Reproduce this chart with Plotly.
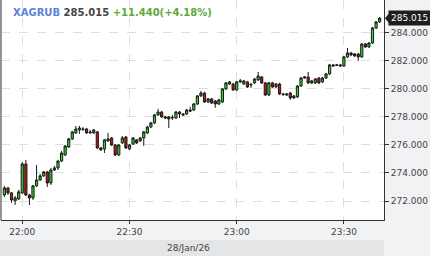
import pandas as pd
import plotly.graph_objects as go

start_time = "2026-01-28 21:55"
open_ = [272.43, 272.93, 272.58, 272.01, 272.15, 272.58, 274.64, 272.43, 272.22, 273.08,
         273.50, 273.79, 274.07, 273.29, 274.21, 274.36, 274.85, 275.28, 275.85, 276.42,
         276.85, 277.06, 277.13, 277.13, 276.85, 276.85, 276.92, 275.78, 275.71, 276.28,
         276.49, 275.99, 275.28, 276.14, 276.56, 275.71, 276.06, 276.35, 276.28, 276.49,
         276.85, 277.27, 277.56, 278.13, 278.34, 277.99, 277.99, 277.91, 277.91, 278.34,
         278.20, 278.20, 278.48, 278.48, 278.91, 279.48, 279.69, 279.05, 279.27, 279.12,
         278.91, 279.05, 279.98, 280.33, 280.33, 279.91, 280.48, 280.33, 280.48, 280.26,
         280.41, 280.62, 280.83, 280.41, 279.55, 280.41, 280.12, 280.33, 279.62, 279.55,
         279.69, 279.34, 279.41, 280.19, 280.76, 280.83, 280.41, 280.41, 280.76, 280.48,
         280.76, 281.05, 281.69, 281.65, 281.69, 281.62, 282.26, 282.54, 282.47, 282.47,
         282.26, 283.18, 282.97, 283.25, 284.32, 284.75]
high = [273.08, 273.00, 272.65, 272.36, 272.79, 274.78, 274.93, 272.51, 273.15, 274.57,
        273.93, 274.14, 274.14, 274.36, 274.50, 274.93, 275.57, 275.99, 276.49, 276.99,
        277.35, 277.35, 277.27, 277.20, 277.06, 277.13, 276.99, 275.85, 276.42, 276.85,
        276.56, 276.06, 276.06, 276.63, 276.63, 276.06, 276.56, 276.42, 276.56, 276.99,
        277.35, 277.63, 278.20, 278.56, 278.41, 278.06, 278.06, 278.13, 278.41, 278.41,
        278.27, 278.56, 278.70, 278.98, 279.55, 279.84, 279.77, 279.34, 279.34, 279.20,
        279.27, 280.05, 280.48, 280.55, 280.41, 280.55, 280.69, 280.62, 280.55, 280.41,
        280.76, 281.19, 280.90, 280.48, 280.48, 280.48, 280.41, 280.41, 279.69, 279.69,
        279.77, 279.55, 280.26, 280.83, 280.90, 281.19, 280.62, 280.76, 280.83, 280.83,
        281.12, 281.76, 281.76, 281.76, 281.76, 282.33, 282.90, 282.61, 282.54, 282.54,
        283.25, 283.25, 283.32, 284.39, 284.82, 285.10]
low = [272.29, 272.43, 271.87, 271.72, 272.08, 272.51, 272.36, 271.72, 272.08, 273.00,
       273.43, 273.72, 273.00, 273.15, 274.14, 274.21, 274.78, 275.21, 275.78, 276.35,
       276.78, 276.78, 276.99, 276.78, 276.78, 276.78, 275.71, 275.57, 275.42, 276.21,
       275.92, 275.21, 275.21, 276.06, 275.71, 275.64, 275.99, 276.06, 276.21, 275.92,
       276.78, 277.20, 277.49, 278.06, 277.91, 277.84, 277.20, 277.77, 277.84, 277.91,
       278.06, 278.13, 278.34, 278.41, 278.84, 279.41, 278.98, 278.98, 278.91, 278.63,
       278.84, 278.98, 279.91, 280.26, 279.84, 279.84, 280.41, 280.26, 280.05, 280.05,
       280.33, 280.55, 280.33, 279.48, 279.48, 280.05, 280.05, 279.55, 279.48, 279.48,
       279.20, 279.27, 279.34, 280.12, 280.69, 280.33, 280.33, 280.33, 280.33, 280.41,
       280.69, 280.98, 281.54, 281.62, 281.54, 281.54, 282.19, 282.33, 282.26, 281.97,
       282.19, 282.90, 282.90, 283.18, 284.25, 284.68]
close = [272.93, 272.58, 272.08, 272.22, 272.65, 274.64, 272.43, 272.22, 273.08, 273.50,
         273.79, 274.07, 273.29, 274.21, 274.36, 274.85, 275.42, 275.92, 276.42, 276.92,
         277.13, 277.20, 277.10, 276.85, 276.90, 277.06, 275.78, 275.64, 276.35, 276.42,
         275.99, 275.28, 275.99, 276.49, 275.78, 275.99, 276.49, 276.14, 276.49, 276.92,
         277.27, 277.56, 278.13, 278.34, 277.99, 277.91, 277.84, 277.95, 278.34, 278.20,
         278.13, 278.48, 278.41, 278.91, 279.48, 279.69, 279.05, 279.27, 278.98, 278.91,
         279.20, 279.98, 280.41, 280.48, 279.91, 280.48, 280.55, 280.55, 280.12, 280.30,
         280.69, 280.90, 280.41, 279.55, 280.41, 280.12, 280.33, 279.62, 279.59, 279.62,
         279.34, 279.48, 280.19, 280.76, 280.83, 280.41, 280.55, 280.69, 280.41, 280.76,
         281.05, 281.69, 281.62, 281.69, 281.62, 282.26, 282.54, 282.40, 282.33, 282.26,
         283.18, 282.97, 283.25, 284.32, 284.75, 285.015]

y_ticks = [272, 274, 276, 278, 280, 282, 284]
last_price = 285.015
change_text = "+11.440(+4.18%)"
symbol = "XAGRUB"
date_label = "28/Jan/26"

times = pd.date_range(start_time, periods=len(close), freq="1min")

FONT = "DejaVu Sans"
fig = go.Figure()
fig.add_trace(go.Candlestick(
    x=times, open=open_, high=high, low=low, close=close,
    increasing=dict(fillcolor="#2fd52f", line=dict(color="#1a1a1a", width=1)),
    decreasing=dict(fillcolor="#c81414", line=dict(color="#1a1a1a", width=1)),
    whiskerwidth=0, showlegend=False, hoverinfo="skip",
))

fig.update_layout(
    width=430, height=256,
    margin=dict(l=1, r=46, t=0, b=36),
    paper_bgcolor="#f1f2f4",
    plot_bgcolor="#ffffff",
    boxgap=0.12,
    font=dict(family=FONT, size=9, color="#444444"),
    xaxis=dict(
        type="date",
        automargin=False,
        range=["2026-01-28 21:54:03", "2026-01-28 23:41:13"],
        rangeslider=dict(visible=False),
        dtick=30 * 60 * 1000,
        tick0="2026-01-28 22:00",
        tickformat="%H:%M",
        showgrid=True, gridcolor="#dedede", griddash="dash", gridwidth=1,
        showline=True, linecolor="#333333", linewidth=1,
        ticks="outside", ticklen=3, tickcolor="#333333",
        tickfont=dict(family=FONT, size=9, color="#444444"),
        zeroline=False,
    ),
    yaxis=dict(
        side="right",
        automargin=False,
        range=[270.65, 286.31],
        tickvals=y_ticks,
        tickformat=".3f",
        showgrid=True, gridcolor="#dedede", griddash="dash", gridwidth=1,
        showline=True, linecolor="#333333", linewidth=1,
        ticks="outside", ticklen=4, tickcolor="#333333",
        tickfont=dict(family=FONT, size=9, color="#444444"),
        zeroline=False,
    ),
    shapes=[
        dict(type="line", xref="paper", yref="paper", x0=0, x1=0, y0=0, y1=1,
             line=dict(color="#333333", width=1)),
        dict(type="rect", xref="paper", yref="paper", x0=-0.01, x1=1,
             y0=-0.0909, y1=-0.17, fillcolor="#e4e5e7", line=dict(width=0), layer="below"),
        dict(type="path", xref="paper", yref="y", xsizemode="pixel", ysizemode="pixel",
             xanchor=1, yanchor=last_price,
             path="M1,0 L6,6 L6,-6 Z", fillcolor="#1e1e1e", line=dict(width=0)),
    ],
    annotations=[
        dict(xref="paper", yref="paper", x=0.026, y=0.945, xanchor="left", yanchor="middle",
             showarrow=False,
             text=(f"<b><span style='color:#5a82d8'>{symbol}</span> "
                   f"<span style='color:#444444'>{last_price:.3f}</span> "
                   f"<span style='color:#62a83a'>{change_text}</span></b>"),
             font=dict(family=FONT, size=10)),
        dict(xref="paper", yref="y", x=1, y=last_price, xanchor="left", yanchor="middle",
             xshift=4, showarrow=False, text=f"{last_price:.3f}",
             bgcolor="#1e1e1e", borderpad=2,
             font=dict(family=FONT, size=9, color="#ffffff")),
        dict(xref="paper", yref="paper", x=0.49, y=-0.127, xanchor="center", yanchor="middle",
             showarrow=False, text=date_label,
             font=dict(family=FONT, size=9, color="#444444")),
    ],
)

fig.write_html("out.html")
